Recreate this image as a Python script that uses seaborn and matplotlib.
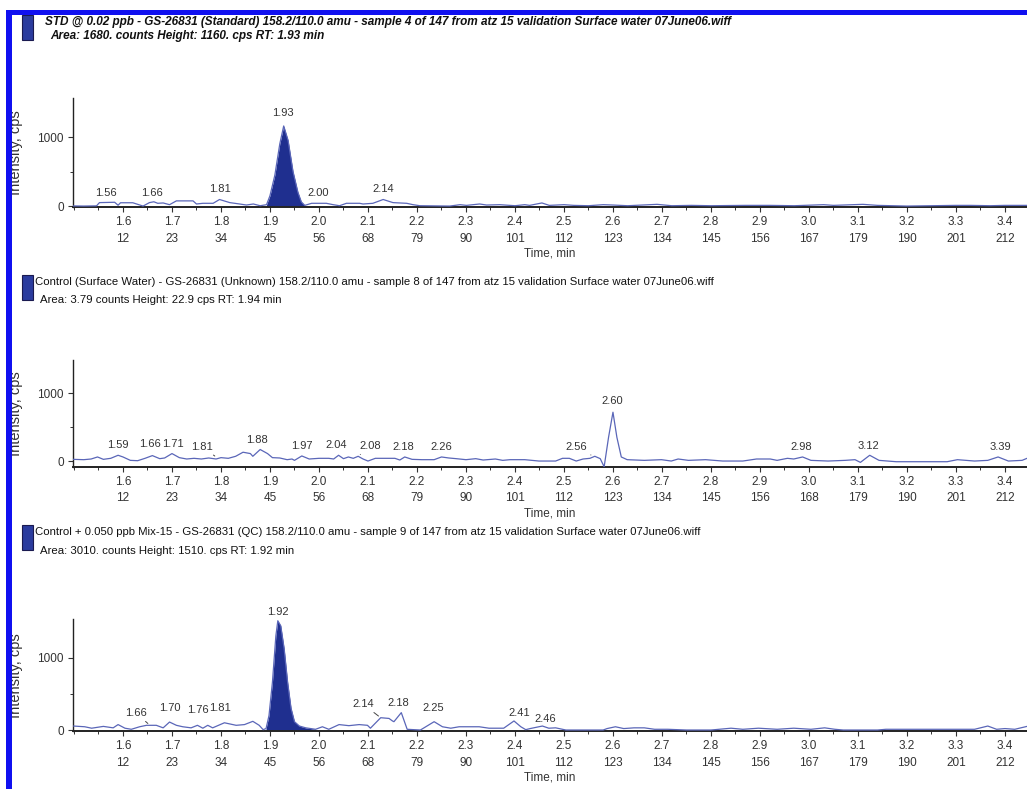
import matplotlib
matplotlib.use("Agg")
import matplotlib.pyplot as plt
from matplotlib.patches import Rectangle
from matplotlib.ticker import FixedLocator, AutoMinorLocator
import seaborn as sns

# ---------------- data ----------------
tick_times = [1.6, 1.7, 1.8, 1.9, 2.0, 2.1, 2.2, 2.3, 2.4, 2.5,
              2.6, 2.7, 2.8, 2.9, 3.0, 3.1, 3.2, 3.3, 3.4]
scans_a = ["12", "23", "34", "45", "56", "68", "79", "90", "101", "112",
           "123", "134", "145", "156", "167", "179", "190", "201", "212"]
scans_b = ["12", "23", "34", "45", "56", "68", "79", "90", "101", "112",
           "123", "134", "145", "156", "168", "179", "190", "201", "212"]

# panel 1: standard
std_time = [1.498, 1.52, 1.546, 1.552, 1.583, 1.59, 1.595, 1.62, 1.641, 1.654,
            1.663, 1.671, 1.682, 1.695, 1.709, 1.743, 1.75, 1.763, 1.784, 1.797,
            1.818, 1.838, 1.852, 1.866, 1.88, 1.893, 1.90, 1.91, 1.92, 1.928,
            1.937, 1.947, 1.957, 1.964, 1.971, 1.985, 2.015, 2.029, 2.042, 2.056,
            2.083, 2.09, 2.11, 2.131, 2.151, 2.179, 2.192, 2.206, 2.267, 2.288,
            2.301, 2.328, 2.342, 2.369, 2.40, 2.42, 2.43, 2.455, 2.47, 2.50,
            2.52, 2.55, 2.58, 2.60, 2.63, 2.66, 2.69, 2.72, 2.76, 2.80,
            2.87, 2.92, 2.97, 3.03, 3.05, 3.09, 3.11, 3.14, 3.20, 3.30,
            3.33, 3.37, 3.40, 3.445]
std_cps = [2, 0, 3, 50, 55, 12, 48, 48, 0, 50,
           62, 40, 45, 20, 75, 75, 30, 40, 40, 95,
           50, 30, 15, 30, 5, 20, 150, 450, 900, 1160,
           950, 500, 200, 60, 10, 40, 40, 20, 5, 40,
           40, 30, 40, 95, 50, 40, 20, 5, 0, 20,
           10, 30, 15, 20, 5, 20, 10, 45, 10, 20,
           10, 5, 20, 15, 5, 15, 25, 5, 10, 5,
           10, 10, 5, 20, 10, 20, 25, 10, 0, 10,
           10, 5, 10, 10]
std_fill = [1.893, 1.971]
std_lab = ["1.56", "1.66", "1.81", "1.93", "2.00", "2.14"]
std_lab_t = [1.565, 1.659, 1.798, 1.927, 1.999, 2.131]
std_lab_i = [188, 188, 246, 1343, 188, 246]

# panel 2: control
ctl_time = [1.498, 1.52, 1.535, 1.548, 1.56, 1.575, 1.59, 1.60, 1.615, 1.63,
            1.645, 1.66, 1.675, 1.685, 1.70, 1.715, 1.73, 1.745, 1.76, 1.775,
            1.79, 1.80, 1.815, 1.83, 1.845, 1.86, 1.865, 1.88, 1.895, 1.905,
            1.92, 1.935, 1.945, 1.95, 1.965, 1.98, 2.00, 2.02, 2.03, 2.04,
            2.05, 2.06, 2.07, 2.08, 2.09, 2.10, 2.115, 2.13, 2.155, 2.165,
            2.175, 2.19, 2.21, 2.235, 2.25, 2.265, 2.28, 2.30, 2.32, 2.335,
            2.36, 2.375, 2.39, 2.42, 2.449, 2.483, 2.497, 2.511, 2.525, 2.539,
            2.553, 2.563, 2.574, 2.582, 2.591, 2.60, 2.608, 2.617, 2.629, 2.664,
            2.699, 2.719, 2.733, 2.754, 2.789, 2.824, 2.865, 2.893, 2.921, 2.935,
            2.956, 2.969, 2.987, 3.004, 3.039, 3.074, 3.094, 3.105, 3.124, 3.143,
            3.178, 3.247, 3.282, 3.303, 3.338, 3.365, 3.386, 3.407, 3.435, 3.445]
ctl_cps = [25, 20, 30, 60, 25, 40, 85, 60, 10, 5,
           40, 80, 35, 45, 110, 50, 30, 40, 30, 45,
           30, 50, 40, 70, 130, 110, 70, 170, 110, 50,
           45, 20, 30, 10, 75, 30, 40, 40, 30, 85,
           35, 60, 40, 70, 30, 0, 40, 40, 40, 15,
           60, 25, 20, 20, 60, 45, 35, 20, 35, 15,
           30, 10, 20, 20, 0, 0, 40, 40, 0, 30,
           40, 70, 35, -85, 350, 720, 350, 60, 20, 10,
           20, 0, 30, 10, 20, 0, 0, 30, 30, 10,
           40, 30, 60, 10, 0, 10, 20, -20, 85, 10,
           -10, -10, -10, 20, 0, 10, 60, 0, 10, 40]
ctl_lab = ["1.59", "1.66", "1.71", "1.81", "1.88", "1.97", "2.04", "2.08",
           "2.18", "2.26", "2.56", "2.60", "2.98", "3.12", "3.39"]
ctl_lab_t = [1.590, 1.656, 1.701, 1.761, 1.873, 1.965, 2.036, 2.104,
             2.172, 2.250, 2.526, 2.598, 2.985, 3.121, 3.390]
ctl_lab_i = [234, 249, 249, 210, 307, 224, 234, 220,
             210, 210, 200, 878, 200, 220, 200]
ctl_lead = {"1.81": (1.792, 50), "2.08": (2.080, 70), "2.56": (2.560, 70)}

# panel 3: control + 0.050 ppb
qc_time = [1.499, 1.522, 1.536, 1.560, 1.580, 1.590, 1.604, 1.617, 1.634, 1.648,
           1.668, 1.682, 1.695, 1.709, 1.722, 1.739, 1.752, 1.763, 1.773, 1.783,
           1.807, 1.831, 1.848, 1.865, 1.878, 1.886, 1.892, 1.898, 1.905, 1.912,
           1.916, 1.922, 1.929, 1.936, 1.943, 1.950, 1.960, 1.973, 1.993, 2.007,
           2.020, 2.041, 2.061, 2.082, 2.099, 2.105, 2.126, 2.143, 2.150, 2.153,
           2.168, 2.180, 2.207, 2.218, 2.235, 2.252, 2.269, 2.286, 2.327, 2.347,
           2.377, 2.398, 2.412, 2.422, 2.431, 2.456, 2.469, 2.483, 2.504, 2.58,
           2.588, 2.605, 2.622, 2.643, 2.664, 2.685, 2.712, 2.75, 2.80, 2.841,
           2.865, 2.897, 2.935, 2.969, 3.004, 3.032, 3.053, 3.07, 3.14, 3.157,
           3.213, 3.282, 3.338, 3.365, 3.383, 3.40, 3.42, 3.445]
qc_cps = [55, 45, 25, 50, 30, 75, 25, 10, 45, 65,
          65, 30, 110, 65, 45, 30, 65, 25, 65, 30,
          100, 65, 75, 120, 65, 5, 20, 200, 660, 1300,
          1510, 1440, 1120, 660, 300, 115, 55, 30, 10, 45,
          10, 75, 60, 75, 65, 25, 170, 160, 125, 115,
          240, 10, 0, 45, 115, 45, 25, 45, 45, 25,
          25, 125, 45, 5, 20, 55, 25, 30, 0, 0,
          20, 45, 20, 30, 30, 10, 10, 0, 0, 25,
          10, 25, 10, 25, 10, 30, 10, 0, 0, 10,
          10, 10, 10, 55, 10, 20, 10, 50]
qc_fill = [1.889, 1.993]
qc_lab = ["1.66", "1.70", "1.76", "1.81", "1.92", "2.14", "2.18", "2.25", "2.41", "2.46"]
qc_lab_t = [1.627, 1.696, 1.752, 1.798, 1.917, 2.090, 2.162, 2.233, 2.408, 2.461]
qc_lab_i = [233, 311, 279, 301, 1634, 356, 370, 311, 230, 150]
qc_lead = {"1.66": (1.655, 65), "2.14": (2.126, 170)}

titles = [
    ("STD @ 0.02 ppb - GS-26831 (Standard) 158.2/110.0 amu - sample 4 of 147 from atz 15 validation Surface water 07June06.wiff",
     "Area: 1680. counts Height: 1160. cps RT: 1.93 min"),
    ("Control (Surface Water) - GS-26831 (Unknown) 158.2/110.0 amu - sample 8 of 147 from atz 15 validation Surface water 07June06.wiff",
     "Area: 3.79 counts Height: 22.9 cps RT: 1.94 min"),
    ("Control + 0.050 ppb Mix-15 - GS-26831 (QC) 158.2/110.0 amu - sample 9 of 147 from atz 15 validation Surface water 07June06.wiff",
     "Area: 3010. counts Height: 1510. cps RT: 1.92 min"),
]

# ---------------- style ----------------
sns.set_style("ticks")
plt.rcParams["font.family"] = ["Liberation Sans", "DejaVu Sans"]

LINE = "#5a66b8"
FILL = "#1f2f8f"
FRAME = "#1010f0"
TXT = "#333333"

W, H = 1027, 789
fig = plt.figure(figsize=(W / 100, H / 100), dpi=100)


def px(x, y):
    return x / W, 1 - y / H


# axes boxes in pixels: top, bottom
boxes = [(98, 207.1), (360, 466.8), (619.3, 731.1)]
ylims = [(-15, 1565), (-85, 1490), (-15, 1530)]
title_y = [(22, 36), (282, 300), (532, 551)]
title_x = [(45, 50), (35, 40), (35, 40)]
title_size = [8.5, 8.2, 8.2]

panels = [
    (std_time, std_cps, std_fill, std_lab, std_lab_t, std_lab_i, {}, scans_a),
    (ctl_time, ctl_cps, None, ctl_lab, ctl_lab_t, ctl_lab_i, ctl_lead, scans_b),
    (qc_time, qc_cps, qc_fill, qc_lab, qc_lab_t, qc_lab_i, qc_lead, scans_a),
]

for k, (t, c, fill, lab, lab_t, lab_i, lead, scans) in enumerate(panels):
    top, bot = boxes[k]
    ax = fig.add_axes([73 / W, 1 - bot / H, 1 - 73 / W, (bot - top) / H])
    sns.lineplot(x=t, y=c, ax=ax, color=LINE, lw=0.9, sort=False, zorder=3)
    if fill is not None:
        sel = [(a, b) for a, b in zip(t, c) if fill[0] <= a <= fill[1]]
        ax.fill_between([a for a, _ in sel], [b for _, b in sel], 0,
                        color=FILL, lw=0, zorder=2)
    ax.set_xlim(1.498, 3.445)
    ax.set_ylim(*ylims[k])
    sns.despine(ax=ax)
    ax.spines["left"].set_color("#222222")
    ax.spines["bottom"].set_color("#222222")
    ax.spines["left"].set_linewidth(1.0)
    ax.spines["bottom"].set_linewidth(1.4)

    ax.set_xticks(tick_times)
    ax.set_xticklabels([f"{a:.1f}\n{s}" for a, s in zip(tick_times, scans)],
                       linespacing=1.5)
    ax.xaxis.set_minor_locator(AutoMinorLocator(2))
    ax.set_yticks([0, 1000])
    ax.set_yticklabels(["0", "1000"])
    ax.yaxis.set_minor_locator(FixedLocator([500]))
    ax.tick_params(axis="both", which="major", length=3.5, width=0.8,
                   labelsize=8.5, colors=TXT, pad=3)
    ax.tick_params(axis="both", which="minor", length=2.5, width=0.7, colors=TXT)
    ax.set_xlabel("Time, min", fontsize=8.5, color=TXT, labelpad=2)
    ax.set_ylabel("")

    for s, a, b in zip(lab, lab_t, lab_i):
        if s in lead:
            ax.annotate(s, xy=lead[s], xytext=(a, b), fontsize=8, color=TXT,
                        ha="center", va="center",
                        arrowprops=dict(arrowstyle="-", lw=0.7, color="#444444",
                                        shrinkA=0, shrinkB=2))
        else:
            ax.text(a, b, s, fontsize=8, color=TXT, ha="center", va="center")

    # y label (partly hidden by the frame, like the source)
    fig.text(*px(16.5, (top + bot) / 2), "Intensity, cps", rotation=90,
             ha="center", va="center", fontsize=10.5, color=TXT)

    # header: icon + two title lines
    x0, y0 = px(22, title_y[k][0] - 7)
    fig.patches.append(Rectangle((x0, y0 - 25 / H), 11 / W, 25 / H,
                                 transform=fig.transFigure, facecolor="#2b3c9e",
                                 edgecolor="#1a1a50", lw=0.8, zorder=5))
    bold = k == 0
    for j in range(2):
        fig.text(*px(title_x[k][j], title_y[k][j]), titles[k][j], ha="left", va="center",
                 fontsize=title_size[k], color="#111111",
                 fontweight="bold" if bold else "normal",
                 fontstyle="italic" if bold else "normal")

# blue frame along the top and left edges
fig.patches.append(Rectangle((6 / W, 0), 6 / W, 1 - 10 / H,
                             transform=fig.transFigure, facecolor=FRAME, lw=0, zorder=20))
fig.patches.append(Rectangle((6 / W, 1 - 15 / H), 1, 5 / H,
                             transform=fig.transFigure, facecolor=FRAME, lw=0, zorder=20))

fig.savefig("out.png", dpi=100)
